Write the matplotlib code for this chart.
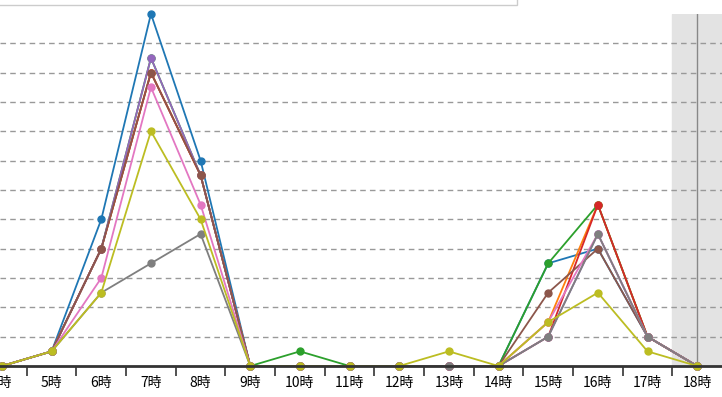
import numpy as np
import matplotlib
matplotlib.use("Agg")
from matplotlib import pyplot as plt
from matplotlib.patches import Rectangle

plt.rcParams['font.family'] = ['Noto Sans CJK JP', 'DejaVu Sans']

hours = [4, 5, 6, 7, 8, 9, 10, 11, 12, 13, 14, 15, 16, 17, 18]
labels = [f"{h}時" for h in hours]

# values per series
blue   = [0, 0.5, 5.0, 12.0, 7.0, 0, 0, 0, 0, 0, 0, 3.5, 4.0, 1.0, 0]
orange = [0, 0.5, 4.0, 10.0, 6.5, 0, 0, 0, 0, 0, 0, 1.5, 5.5, 1.0, 0]
green  = [0, 0.5, 4.0, 10.5, 6.5, 0, 0.5, 0, 0, 0, 0, 3.5, 5.5, 1.0, 0]
red    = [0, 0.5, 4.0, 10.0, 6.5, 0, 0, 0, 0, 0, 0, 1.0, 5.5, 1.0, 0]
purple = [0, 0.5, 4.0, 10.5, 6.5, 0, 0, 0, 0, 0, 0, 1.0, 4.5, 1.0, 0]
brown  = [0, 0.5, 4.0, 10.0, 6.5, 0, 0, 0, 0, 0, 0, 2.5, 4.0, 1.0, 0]
pink   = [0, 0.5, 3.0, 9.5, 5.5, 0, 0, 0, 0, 0, 0, 1.5, 4.5, 1.0, 0]
grey   = [0, 0.5, 2.5, 3.5, 4.5, 0, 0, 0, 0, 0, 0, 1.0, 4.5, 1.0, 0]
olive  = [0, 0.5, 2.5, 8.0, 5.0, 0, 0, 0, 0, 0.5, 0, 1.5, 2.5, 0.5, 0]

series = [
    (blue, '#1f77b4'),
    (orange, '#ff7f0e'),
    (green, '#2ca02c'),
    (red, '#d62728'),
    (purple, '#9467bd'),
    (brown, '#8c564b'),
    (pink, '#e377c2'),
    (grey, '#7f7f7f'),
    (olive, '#bcbd22'),
]

fig = plt.figure(figsize=(7.22, 3.97), dpi=100)
ax = fig.add_axes([0.0, 0.078, 1.0, 0.887])

# shaded area on the right
ax.axvspan(17.5, 18.6, color='#e3e3e3', zorder=0)
ax.axvline(18, color='#888888', lw=1, zorder=1)

for y in range(1, 12):
    ax.axhline(y, color='#999999', lw=1, ls=(0, (4, 3)), zorder=1)

for vals, c in series:
    ax.plot(hours, vals, color=c, lw=1.3, marker='o', ms=5, zorder=3, clip_on=False)

ax.set_xlim(3.96, 18.5)
ax.set_ylim(0, 12)
ax.set_yticks([])
ax.set_xticks(hours)
ax.set_xticklabels(labels, fontsize=10)
ax.set_xticks(np.arange(4.5, 18, 1), minor=True)
ax.tick_params(axis='x', which='major', length=0, pad=7)
ax.tick_params(axis='x', which='minor', length=7, width=1.2, color='#333333', direction='out')
for s in ['top', 'right', 'left']:
    ax.spines[s].set_visible(False)
ax.spines['bottom'].set_color('#333333')
ax.spines['bottom'].set_linewidth(2)
ax.spines['bottom'].set_zorder(4)

# edge of the legend box cut off at the top
fig.patches.append(Rectangle((-0.01, 0.987), 0.726, 0.05, transform=fig.transFigure,
                             facecolor='white', edgecolor='#cccccc', lw=1))

fig.savefig("out.png", dpi=100)
